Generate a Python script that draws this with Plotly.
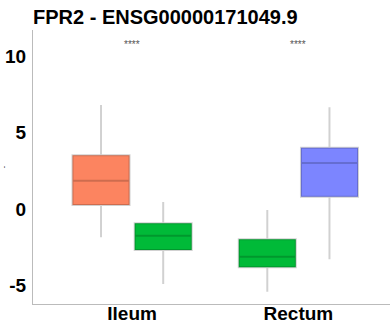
import plotly.graph_objects as go

# Tissue categories and box statistics per group
categories = ["Ileum", "Rectum"]

group_names = ["Ileum high", "Ileum low", "Rectum low", "Rectum high"]
group_x = ["Ileum", "Ileum", "Rectum", "Rectum"]
group_slot = ["a", "b", "a", "b"]
group_colors = ["#FC8460", "#00BA38", "#00BA38", "#7C85FF"]

lower_fence = [-1.87, -4.93, -5.44, -3.31]
q1 = [0.26, -2.70, -3.84, 0.80]
median = [1.85, -1.76, -3.14, 3.02]
q3 = [3.52, -0.95, -2.00, 4.02]
upper_fence = [6.83, 0.45, -0.07, 6.68]

y_tick_values = [-5, 0, 5, 10]
y_tick_labels = ["-5", "0", "5", "10"]

signif_labels = ["****", "****"]
signif_y = 10.83

fig = go.Figure()
for i in range(len(group_names)):
    fig.add_trace(go.Box(
        name=group_names[i],
        x=[group_x[i]],
        q1=[q1[i]],
        median=[median[i]],
        q3=[q3[i]],
        lowerfence=[lower_fence[i]],
        upperfence=[upper_fence[i]],
        offsetgroup=group_slot[i],
        fillcolor=group_colors[i],
        line=dict(color="rgba(0,0,0,0.18)", width=2),
        whiskerwidth=0,
        showlegend=False,
        hoverinfo="skip",
    ))

for cat, lab in zip(categories, signif_labels):
    fig.add_annotation(x=cat, y=signif_y, xref="x", yref="y", text=lab,
                       showarrow=False, font=dict(size=10, color="#555555",
                                                  family="Liberation Sans"))

fig.update_layout(
    width=390, height=329,
    margin=dict(l=33, r=0, t=30, b=25, autoexpand=False),
    paper_bgcolor="white", plot_bgcolor="white",
    boxmode="group", boxgap=0.252, boxgroupgap=0.083,
    title=dict(text="FPR2 - ENSG00000171049.9", x=0, xref="paper",
               xanchor="left", y=1 - 17 / 329, yref="container", yanchor="middle",
               font=dict(size=20, color="black", family="Liberation Sans",
                         weight="bold")),
    font=dict(family="Liberation Sans", color="black"),
)
fig.update_xaxes(
    categoryorder="array", categoryarray=categories,
    range=[-0.596, 1.551], automargin=False,
    showline=True, linecolor="#bbbbbb", linewidth=1,
    showgrid=False, zeroline=False, ticks="",
    tickfont=dict(size=19, color="black", family="Liberation Sans",
                  weight="bold"),
    ticklabelstandoff=-8,
)
fig.update_yaxes(
    range=[-6.25, 11.75], automargin=False,
    tickvals=y_tick_values, ticktext=y_tick_labels,
    showline=True, linecolor="#bbbbbb", linewidth=1,
    showgrid=False, zeroline=False, ticks="",
    tickfont=dict(size=19, color="black", family="Liberation Sans",
                  weight="bold"),
    ticklabelstandoff=2,
    title=dict(text="-", font=dict(size=7, color="black"), standoff=12),
)

fig.write_html("out.html")
